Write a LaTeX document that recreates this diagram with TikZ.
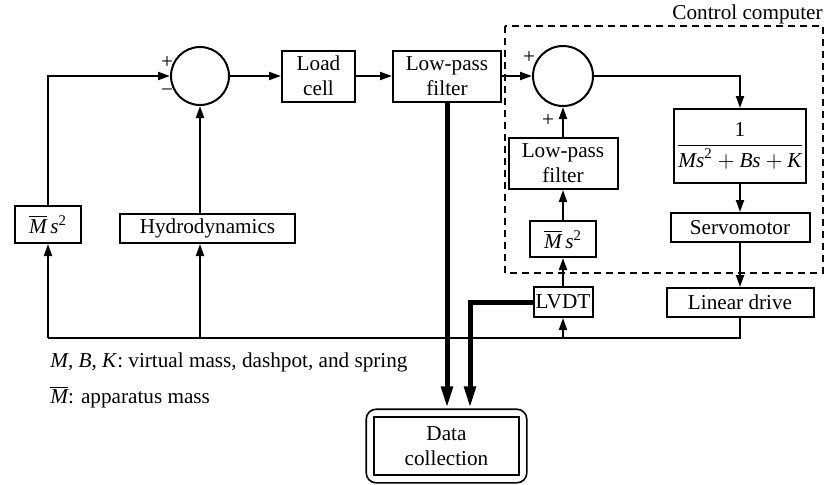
\documentclass[tikz,border=0pt]{standalone}
\usepackage{fontspec}
\usepackage{amsmath}
\setmainfont{Liberation Serif}
\usetikzlibrary{
  arrows.meta,
  positioning,
  fit,
  calc
}
\newcommand{\blkfont}{\fontsize{10.6}{12.5}\selectfont}
\newcommand{\vm}[1]{\text{\itshape #1}}
\newcommand{\mbar}{\overline{\vm{M}}}
\tikzset{
  blk/.style={
    draw, line width=1pt, inner sep=1pt, align=center, font=\blkfont
  },
  sumnode/.style={draw, circle, line width=1pt, minimum size=29pt, inner sep=0pt},
  sig/.style={-{Triangle[length=6pt, width=4pt]}, line width=1pt},
  wire/.style={line width=1pt},
  datasig/.style={-{Triangle[length=11pt, width=5.5pt]}, line width=2.5pt},
  zone/.style={draw, dash pattern=on 3.5pt off 2.5pt, line width=0.6pt},
  sgn/.style={font=\blkfont, inner sep=0pt},
  note/.style={font=\blkfont, anchor=west, inner sep=0pt},
  store/.style={draw, line width=0.8pt, align=center, font=\blkfont}
}

\begin{document}
\begin{tikzpicture}[x=0.5pt, y=-0.5pt, font=\blkfont]
  \useasboundingbox (0,0) rectangle (829,484);

  % force loop
  \node[sumnode] (sumA) at (200,76) {};
  \node[blk, right=25.5pt of sumA, minimum width=36.5pt, minimum height=25.5pt] (load) {Load\\cell};
  \node[blk, right=18pt of load, minimum width=54pt, minimum height=25.5pt] (lpfA) {Low-pass\\filter};
  \node[blk, minimum width=33pt, minimum height=18.5pt] (msqA) at (48,224.5) {$\mbar\,\vm{s}^{\text{2}}$};
  \node[blk, minimum width=87.5pt, minimum height=14.5pt] (hydro) at (207.5,228.5) {Hydrodynamics};

  % control computer
  \node[sumnode, minimum size=30pt] (sumB) at (563,76) {};
  \node[blk, minimum width=29.5pt, minimum height=15pt] (lvdt) at (563,302) {LVDT};
  \node[blk, above=14pt of lvdt, minimum width=33pt, minimum height=18pt] (msqB) {$\mbar\,\vm{s}^{\text{2}}$};
  \node[blk, above=15pt of msqB, minimum width=54.5pt, minimum height=25.5pt] (lpfB) {Low-pass\\filter};
  \node[blk, minimum width=73.5pt, minimum height=14.5pt] (drive) at (740,302.5) {Linear drive};
  \node[blk, above=22pt of drive, minimum width=69.5pt, minimum height=14.5pt] (servo) {Servomotor};
  \node[blk, above=14pt of servo, minimum width=65.5pt, minimum height=37pt] (tf)
    {$\dfrac{\text{1}}{\vm{Ms}^{\text{2}}+\vm{Bs}+\vm{K}}$};

  \coordinate (ccNW) at (505,26);
  \coordinate (ccSE) at (823,273);
  \draw[zone] (ccNW) rectangle (ccSE);
  \node[anchor=base east, inner sep=0pt] (cclabel) at (823,19) {Control computer};

  % data collection
  \node[store, minimum width=72.5pt, minimum height=29pt] (data) at (446.5,446) {Data\\collection};
  \node[draw, line width=0.8pt, rounded corners=5pt, fit=(data), inner sep=3.5pt] (frame) {};

  % signs
  \node[sgn] (pA) at (167,63) {+};
  \node[sgn] (mA) at (167,93) {−};
  \node[sgn] (pB) at (529,58) {+};
  \node[sgn] (pC) at (548,121) {+};

  % key
  \node[note] (keyA) at (50,362) {\textit{M}, \textit{B}, \textit{K}: virtual mass, dashpot, and spring};
  \node[note] (keyB) at (50,397) {$\mbar$: apparatus mass};

  % forward path
  \draw[sig] (sumA.east) -- (load.west);
  \draw[sig] (load.east) -- (lpfA.west);
  \draw[sig] (lpfA.east) -- (sumB.west);
  \draw[sig] (sumB.east) -| (tf.north);
  \draw[sig] (tf.south) -- (servo.north);
  \draw[sig] (servo.south) -- (drive.north);

  % feedback line
  \coordinate (fbline) at (0,338);
  \coordinate (fbR) at (drive.south |- fbline);
  \coordinate (fbL) at (msqA.south |- fbline);
  \draw[wire] (drive.south) -- (fbR) -- (fbL);
  \draw[sig] (fbL) -- (msqA.south);
  \draw[sig] (sumA |- fbline) -- (sumA |- hydro.south);
  \draw[sig] (lvdt |- fbline) -- (lvdt.south);
  \draw[sig] (msqA.north) |- (sumA.west);
  \draw[sig] (sumA |- hydro.north) -- (sumA.south);
  \draw[sig] (lvdt.north) -- (msqB.south);
  \draw[sig] (msqB.north) -- (lpfB.south);
  \draw[sig] (lpfB.north) -- (sumB.south);

  % recorded signals
  \draw[datasig] (lpfA.south) -- (lpfA.south |- frame.north);
  \draw[datasig] (lvdt.west) -| ([xshift=11.5pt]lpfA.south |- frame.north);
\end{tikzpicture}
\end{document}
